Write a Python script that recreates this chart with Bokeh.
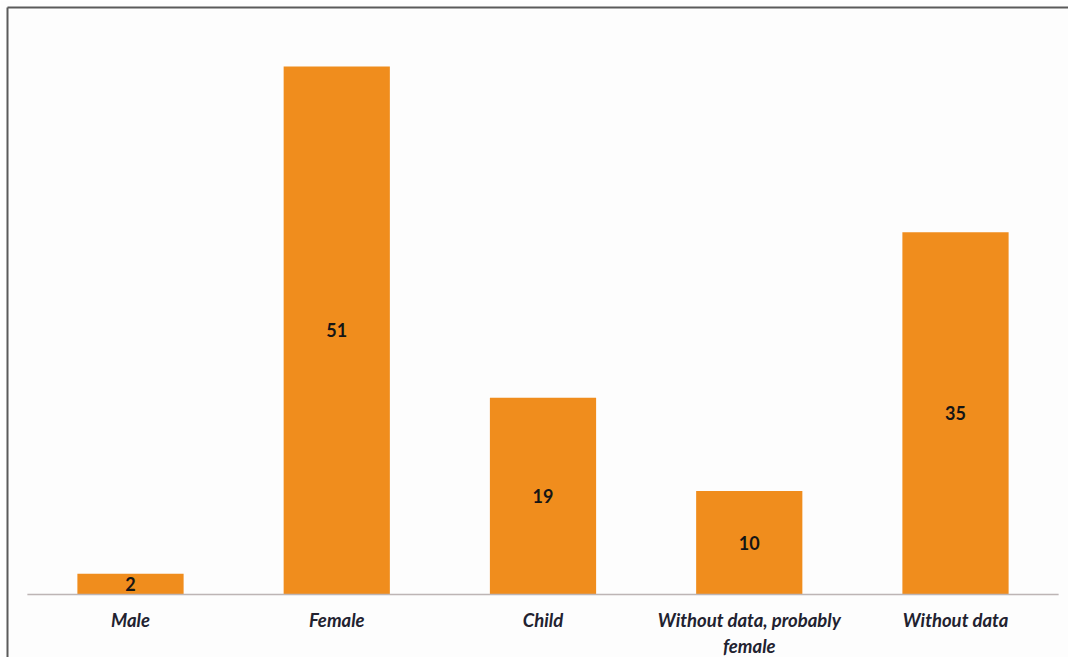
from bokeh.plotting import figure
from bokeh.models import Range1d, ColumnDataSource
from bokeh.core.properties import value
from bokeh.embed import file_html
from bokeh.resources import INLINE

categories = ["Male", "Female", "Child", "Without data, probably\nfemale", "Without data"]
counts = [2, 51, 19, 10, 35]
count_labels = ["2", "51", "19", "10", "35"]

W, H = 1068, 657
# pixel layout helpers (layout only)
base_px, px_per_unit = 594, 10.353
x0_px, step_px = 130, 206.25

y_start = -(H - base_px) / px_per_unit
y_end = base_px / px_per_unit
x_start = -x0_px / step_px
x_end = (W - x0_px) / step_px

def ypx(py):
    return (base_px - py) / px_per_unit

def xpx(px):
    return (px - x0_px) / step_px

p = figure(width=W, height=H, output_backend="svg", toolbar_location=None,
           x_range=Range1d(x_start, x_end), y_range=Range1d(y_start, y_end),
           min_border=0, min_border_left=0, min_border_right=0,
           min_border_top=0, min_border_bottom=0)
p.axis.visible = False
p.grid.visible = False
p.outline_line_color = None
p.background_fill_color = "#fdfdfd"
p.border_fill_color = "#fdfdfd"

xs = list(range(len(categories)))
src = ColumnDataSource(dict(x=xs, top=counts, mid=[c / 2 for c in counts],
                            lab=count_labels, cat=categories))

p.vbar(x="x", top="top", bottom=0, width=0.515, source=src,
       fill_color="#F08D1D", line_color=None)

# baseline across category bands
p.segment(x0=[-0.5], y0=[0], x1=[len(categories) - 0.5], y1=[0],
          line_color="#bdb5b5", line_width=1.5)

# frame lines (top and left)
p.segment(x0=[xpx(7)], y0=[ypx(7)], x1=[x_end], y1=[ypx(7)],
          line_color="#5a5a5a", line_width=2)
p.segment(x0=[xpx(7)], y0=[ypx(7)], x1=[xpx(7)], y1=[y_start],
          line_color="#5a5a5a", line_width=2)

p.text(x="x", y="mid", text="lab", source=src,
       text_font=value("Lato"), text_font_style="bold", text_font_size="18px",
       text_color="#151515", text_align="center", text_baseline="middle")

p.text(x="x", y=ypx(608), text="cat", source=src,
       text_font=value("Lato"), text_font_style="bold italic", text_font_size="18.5px",
       text_color="#222230", text_align="center", text_baseline="top",
       text_line_height=1.22)

open("out.html", "w").write(file_html(p, INLINE))
